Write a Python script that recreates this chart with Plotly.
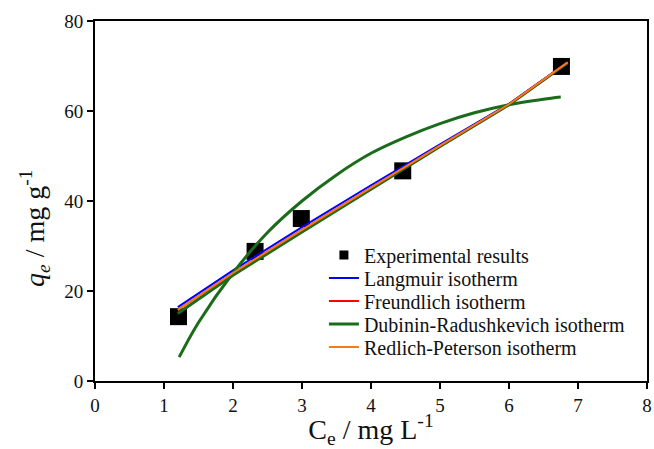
import plotly.graph_objects as go

# Experimental data
ce_exp = [1.21, 2.32, 2.99, 4.46, 6.76]
qe_exp = [14.3, 28.8, 36.1, 46.7, 69.9]

# Fitted model curves
ce_fit = [1.2, 2.0, 3.0, 4.0, 5.0, 6.0, 6.85]
q_langmuir = [16.4, 24.6, 34.2, 43.5, 52.6, 61.6, 70.8]
q_freundlich = [15.8, 24.0, 33.6, 43.0, 52.3, 61.5, 70.8]
q_redlich = [15.8, 24.0, 33.6, 43.0, 52.3, 61.5, 70.8]
q_green_lin = [15.0, 23.5, 33.1, 42.6, 52.1, 61.4, 70.7]

ce_dr = [1.22, 1.5, 2.0, 2.5, 3.0, 3.5, 4.0, 4.5, 5.0, 5.5, 6.0, 6.5, 6.75]
q_dr = [5.3, 13.0, 24.0, 33.0, 40.0, 45.8, 50.6, 54.2, 57.2, 59.6, 61.4, 62.6, 63.1]

x_ticks = [0, 1, 2, 3, 4, 5, 6, 7, 8]
y_ticks = [0, 20, 40, 60, 80]

FONT = "Liberation Serif, Times New Roman, Times, serif"
TXT = "#111"

fig = go.Figure()
fig.add_trace(go.Scatter(x=ce_exp, y=qe_exp, mode="markers", showlegend=False,
                         marker=dict(symbol="square", size=17, color="black")))
fig.add_trace(go.Scatter(x=ce_fit, y=q_green_lin, mode="lines", showlegend=False,
                         line=dict(color="#1a6b1a", width=3)))
fig.add_trace(go.Scatter(x=ce_fit, y=q_langmuir, mode="lines", name="Langmuir isotherm",
                         legend="legend2", line=dict(color="#0000ff", width=2)))
fig.add_trace(go.Scatter(x=ce_fit, y=q_freundlich, mode="lines", name="Freundlich isotherm",
                         legend="legend3", line=dict(color="#ff0000", width=2)))
fig.add_trace(go.Scatter(x=ce_dr, y=q_dr, mode="lines", name="Dubinin-Radushkevich isotherm",
                         legend="legend4", line=dict(color="#1a6b1a", width=3, shape="spline")))
fig.add_trace(go.Scatter(x=ce_fit, y=q_redlich, mode="lines", name="Redlich-Peterson isotherm",
                         legend="legend5", line=dict(color="#f07d1a", width=2)))
# legend entry for experimental markers (smaller symbol as in the reference)
fig.add_trace(go.Scatter(x=[None], y=[None], mode="markers", name="Experimental results",
                         legend="legend", marker=dict(symbol="square", size=9, color="black")))

axis_common = dict(showgrid=False, zeroline=False, showline=True, linecolor="black", linewidth=2,
                   mirror=True, ticks="outside", ticklen=6, tickwidth=2, tickcolor="black",
                   tickfont=dict(family=FONT, size=19, color=TXT))


def leg(ypx):
    return dict(x=(326 - 95) / 557, y=(381 - ypx) / 360, xanchor="left", yanchor="middle",
                bgcolor="rgba(0,0,0,0)", borderwidth=0,
                font=dict(family=FONT, size=20, color=TXT), itemwidth=30)


fig.update_layout(
    width=654, height=449,
    margin=dict(l=95, r=2, t=21, b=68),
    plot_bgcolor="white", paper_bgcolor="white",
    font=dict(family=FONT, color=TXT),
    xaxis=dict(range=[0, 8], tickvals=x_ticks, ticklabeloverflow="allow", **axis_common,
               title=dict(text="C<sub>e</sub> / mg L<sup>-1</sup>",
                          font=dict(family=FONT, size=28, color=TXT), standoff=4)),
    yaxis=dict(range=[0, 80], tickvals=y_ticks, **axis_common),
    legend=leg(255), legend2=leg(278), legend3=leg(301), legend4=leg(324), legend5=leg(347),
    annotations=[dict(text="<i>q<sub>e</sub></i> / mg g<sup>-1</sup>", textangle=-90,
                      xref="paper", yref="paper", x=0, y=(381 - 228) / 360,
                      xanchor="center", yanchor="middle", xshift=-60, showarrow=False,
                      font=dict(family=FONT, size=28, color=TXT))],
)

fig.write_html("out.html")
